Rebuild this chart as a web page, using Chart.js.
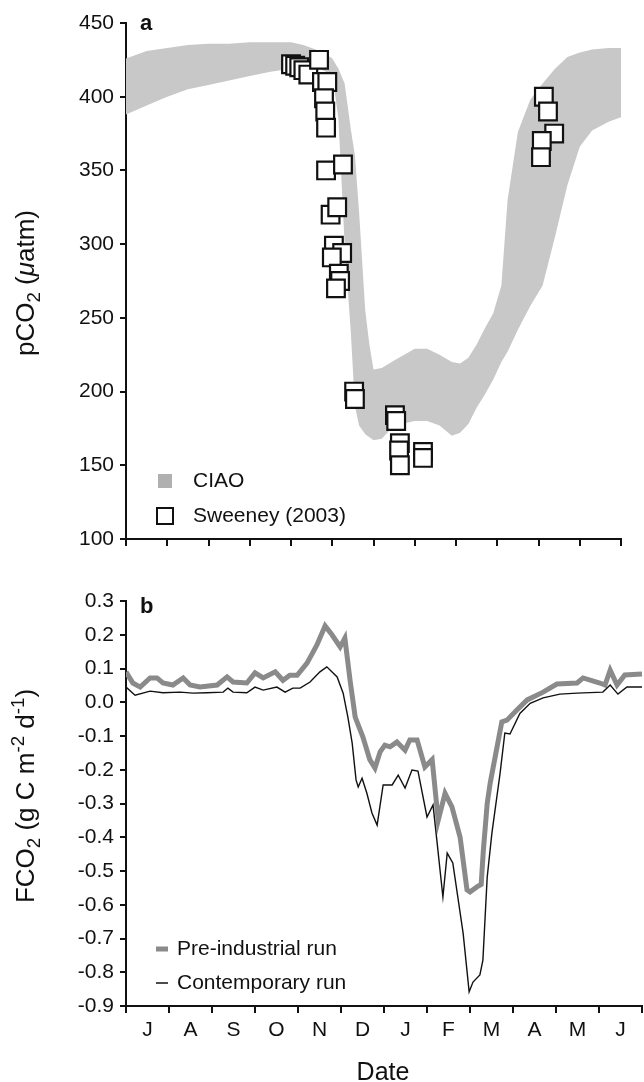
<!DOCTYPE html>
<html>
<head>
<meta charset="utf-8">
<script src="https://cdn.jsdelivr.net/npm/chart.js@4.4.1/dist/chart.umd.min.js"></script>
<style>
  html, body { margin: 0; padding: 0; background: #fff; }
  #wrap { position: relative; width: 644px; height: 1082px; }
  canvas { position: absolute; left: 0; }
</style>
</head>
<body>
<div id="wrap">
  <canvas id="topChart" width="644" height="560" style="top:0"></canvas>
  <canvas id="bottomChart" width="644" height="522" style="top:560px"></canvas>
</div>
<script>
// month labels, Jul -> Jun
const months = ["J", "A", "S", "O", "N", "D", "J", "F", "M", "A", "M", "J"];

// panel a: CIAO envelope (months since 1 Jul)
const ciaoX = [0, 0.5, 1, 1.5, 2, 2.5, 3, 3.5, 4, 4.3, 4.6, 4.85, 5.0, 5.15, 5.3, 5.45, 5.55, 5.65, 5.8, 5.9,
               6.0, 6.2, 6.5, 7.0, 7.3, 7.6, 7.9, 8.1, 8.3, 8.5, 8.7, 8.9, 9.1, 9.25, 9.5, 9.8,
               10.1, 10.4, 10.7, 11.0, 11.3, 11.7, 12];
const ciaoUpper = [426, 431, 433, 435, 436, 436, 437, 437, 437, 435, 432, 429, 426, 419, 409, 378, 360, 322, 255, 232,
                   215, 216, 221, 229, 229, 225, 220, 219, 223, 232, 243, 253, 272, 330, 376, 398,
                   409, 419, 427, 430, 432, 433, 433];
const ciaoLower = [388, 394, 400, 405, 408, 411, 414, 417, 419, 420, 420, 417, 415, 385, 300, 240, 190, 177, 171, 169,
                   167, 168, 177, 180, 180, 177, 170, 172, 178, 189, 198, 208, 220, 227, 242, 258,
                   272, 305, 340, 366, 377, 383, 386];

// panel a: Sweeney (2003) observations
const sweeneyX = [4.0, 4.1, 4.2, 4.3, 4.42, 4.68, 4.75, 4.88, 4.8, 4.83, 4.85, 4.85, 5.26, 4.96, 5.12, 5.04, 5.24, 4.99,
                  5.16, 5.19, 5.09, 5.53, 5.55, 6.52, 6.55, 6.64, 6.62, 6.64, 7.2, 7.2, 10.13, 10.23, 10.38, 10.08, 10.06];
const sweeneyY = [422, 421, 420, 418, 415, 425, 410, 410, 399, 390, 379, 350, 354, 320, 325, 299, 294, 291,
                  280, 275, 270, 200, 195, 184, 180, 165, 160, 150, 159, 155, 400, 390, 375, 370, 359];

// panel b: air-sea flux
const preX = [0, 0.16, 0.33, 0.56, 0.72, 0.86, 1.09, 1.33, 1.49, 1.72, 2.12, 2.35, 2.49, 2.81, 3.0, 3.19, 3.47, 3.65,
              3.81, 3.98, 4.21, 4.44, 4.63, 4.79, 4.98, 5.09, 5.21, 5.33, 5.51, 5.67, 5.79, 5.91, 6.02, 6.14, 6.3,
              6.49, 6.6, 6.77, 6.95, 7.12, 7.26, 7.42, 7.58, 7.77, 7.93, 8.0, 8.16, 8.26, 8.31, 8.4, 8.47, 8.63,
              8.74, 8.86, 9.09, 9.33, 9.7, 10.02, 10.49, 10.63, 11.02, 11.14, 11.26, 11.42, 11.6, 12];
const preY = [0.09, 0.057, 0.045, 0.072, 0.072, 0.057, 0.051, 0.072, 0.051, 0.045, 0.051, 0.075, 0.06, 0.057, 0.087,
              0.072, 0.09, 0.065, 0.08, 0.08, 0.116, 0.17, 0.226, 0.2, 0.164, 0.19, 0.066, -0.044, -0.103, -0.17,
              -0.195, -0.147, -0.127, -0.132, -0.118, -0.142, -0.112, -0.112, -0.192, -0.17, -0.35, -0.27, -0.31,
              -0.40, -0.556, -0.562, -0.547, -0.54, -0.44, -0.30, -0.239, -0.132, -0.058, -0.053, -0.023, 0.007,
              0.03, 0.054, 0.057, 0.072, 0.057, 0.051, 0.095, 0.051, 0.081, 0.084];
const conX = [0, 0.21, 0.56, 0.86, 1.26, 1.56, 1.88, 2.26, 2.37, 2.49, 2.81, 3.0, 3.19, 3.51, 3.7, 3.88, 4.05, 4.28,
              4.51, 4.67, 4.91, 5.05, 5.16, 5.26, 5.35, 5.4, 5.49, 5.6, 5.72, 5.84, 5.98, 6.19, 6.33, 6.49, 6.65,
              6.79, 7.0, 7.14, 7.23, 7.37, 7.47, 7.6, 7.84, 7.98, 8.07, 8.23, 8.3, 8.4, 8.51, 8.7, 8.81, 8.93,
              9.16, 9.4, 9.7, 10.09, 10.49, 11.09, 11.26, 11.44, 11.65, 12];
const conY = [0.045, 0.021, 0.033, 0.028, 0.03, 0.027, 0.028, 0.03, 0.042, 0.03, 0.028, 0.045, 0.036, 0.045, 0.03,
              0.042, 0.042, 0.06, 0.09, 0.105, 0.075, 0.027, -0.044, -0.121, -0.23, -0.251, -0.225, -0.269, -0.328,
              -0.364, -0.245, -0.245, -0.216, -0.254, -0.201, -0.204, -0.34, -0.304, -0.41, -0.577, -0.447, -0.476,
              -0.684, -0.858, -0.829, -0.808, -0.764, -0.518, -0.387, -0.21, -0.091, -0.094, -0.033, -0.003, 0.013,
              0.024, 0.027, 0.03, 0.051, 0.024, 0.045, 0.045];

const FONT = '"Liberation Sans", Arial, Helvetica, sans-serif';
const toXY = (xs, ys) => xs.map((x, i) => ({ x: x, y: ys[i] }));

// draws text with sub/superscript parts, optionally rotated
function drawRich(ctx, parts, cx, cy, size, rotate) {
    ctx.save();
    ctx.translate(cx, cy);
    if (rotate) ctx.rotate(-Math.PI / 2);
    ctx.textBaseline = "alphabetic";
    ctx.textAlign = "left";
    ctx.fillStyle = "#111";
    let total = 0;
    parts.forEach(p => {
        const s = p.sub || p.sup ? size * 0.72 : size;
        ctx.font = (p.italic ? "italic " : "") + s + "px " + FONT;
        p.w = ctx.measureText(p.t).width;
        total += p.w;
    });
    let x = -total / 2;
    parts.forEach(p => {
        const s = p.sub || p.sup ? size * 0.72 : size;
        ctx.font = (p.italic ? "italic " : "") + s + "px " + FONT;
        let dy = size * 0.35;
        if (p.sub) dy += size * 0.22;
        if (p.sup) dy -= size * 0.38;
        ctx.fillText(p.t, x, dy);
        x += p.w;
    });
    ctx.restore();
}

function axisX(showLabels) {
    return {
        type: "category",
        labels: months,
        offset: true,
        grid: { offset: true, drawOnChartArea: false, color: "#111", lineWidth: 2, tickLength: 7 },
        border: { color: "#111", width: 2 },
        ticks: { display: showLabels, color: "#111", font: { family: FONT, size: 21 }, padding: 5, maxRotation: 0, autoSkip: false }
    };
}

function axisY(min, max, step, fmt) {
    return {
        min: min, max: max,
        grid: { drawOnChartArea: false, color: "#111", lineWidth: 2, tickLength: 6 },
        border: { color: "#111", width: 2 },
        ticks: { stepSize: step, color: "#111", font: { family: FONT, size: 21 }, padding: 6, callback: fmt },
        afterFit(scale) { scale.width = 126; }
    };
}

/*** PANEL A ***/
const topX = axisX(false);
topX.afterFit = function (scale) { scale.height = 21; };

const panelA = {
    id: "panelA",
    afterDraw(chart) {
        const ctx = chart.ctx;
        drawRich(ctx, [{ t: "pCO" }, { t: "2", sub: true }, { t: " (" }, { t: "\u03bc", italic: true }, { t: "atm)" }], 25, 283, 26, true);
        ctx.save();
        ctx.fillStyle = "#111";
        ctx.font = "bold 22px " + FONT;
        ctx.textBaseline = "alphabetic";
        ctx.fillText("a", 140, 30);
        // legend
        ctx.fillStyle = "#b0b0b0";
        ctx.fillRect(158, 474, 14, 14);
        ctx.strokeStyle = "#111";
        ctx.lineWidth = 2;
        ctx.strokeRect(157, 508, 16, 16);
        ctx.fillStyle = "#111";
        ctx.font = "21px " + FONT;
        ctx.textBaseline = "middle";
        ctx.fillText("CIAO", 193, 481);
        ctx.fillText("Sweeney (2003)", 193, 516);
        ctx.restore();
    }
};

new Chart(document.getElementById("topChart"), {
    type: "line",
    data: {
        datasets: [{
            label: "Sweeney (2003)",
            data: toXY(sweeneyX, sweeneyY),
            xAxisID: "xd",
            showLine: false,
            pointStyle: "rect",
            pointRadius: 12.5,
            pointBorderWidth: 2.2,
            pointBorderColor: "#111",
            pointBackgroundColor: "#fff"
        }, {
            label: "CIAO max",
            data: toXY(ciaoX, ciaoUpper),
            xAxisID: "xd",
            borderWidth: 0,
            pointRadius: 0,
            backgroundColor: "#c8c8c8",
            fill: "+1"
        }, {
            label: "CIAO min",
            data: toXY(ciaoX, ciaoLower),
            xAxisID: "xd",
            borderWidth: 0,
            pointRadius: 0,
            fill: false
        }]
    },
    options: {
        responsive: false,
        animation: false,
        devicePixelRatio: 1,
        layout: { padding: { top: 23, right: 23, left: 0, bottom: 0 } },
        plugins: { legend: { display: false }, tooltip: { enabled: false } },
        scales: {
            x: topX,
            xd: { type: "linear", min: 0, max: 12, display: false },
            y: axisY(100, 450, 50, v => v)
        }
    },
    plugins: [panelA]
});

/*** PANEL B ***/
const botX = axisX(true);
botX.afterFit = function (scale) { scale.height = 76; };

const panelB = {
    id: "panelB",
    afterDraw(chart) {
        const ctx = chart.ctx;
        drawRich(ctx, [{ t: "FCO" }, { t: "2", sub: true }, { t: " (g C m" }, { t: "-2", sup: true }, { t: " d" }, { t: "-1", sup: true }, { t: ")" }], 25, 236, 26, true);
        ctx.save();
        ctx.fillStyle = "#111";
        ctx.font = "bold 22px " + FONT;
        ctx.textBaseline = "alphabetic";
        ctx.fillText("b", 140, 53);
        ctx.font = "25px " + FONT;
        ctx.textAlign = "center";
        ctx.textBaseline = "middle";
        ctx.fillText("Date", 383, 513);
        // legend
        ctx.strokeStyle = "#8a8a8a";
        ctx.lineWidth = 5;
        ctx.beginPath(); ctx.moveTo(156, 389); ctx.lineTo(168, 389); ctx.stroke();
        ctx.strokeStyle = "#111";
        ctx.lineWidth = 1.5;
        ctx.beginPath(); ctx.moveTo(156, 423); ctx.lineTo(168, 423); ctx.stroke();
        ctx.font = "21px " + FONT;
        ctx.textAlign = "left";
        ctx.fillText("Pre-industrial run", 177, 389);
        ctx.fillText("Contemporary run", 177, 423);
        ctx.restore();
    }
};

new Chart(document.getElementById("bottomChart"), {
    type: "line",
    data: {
        datasets: [{
            label: "Contemporary run",
            data: toXY(conX, conY),
            xAxisID: "xd",
            borderColor: "#111",
            borderWidth: 1.4,
            pointRadius: 0,
            fill: false
        }, {
            label: "Pre-industrial run",
            data: toXY(preX, preY),
            xAxisID: "xd",
            borderColor: "#8a8a8a",
            borderWidth: 5,
            pointRadius: 0,
            fill: false
        }]
    },
    options: {
        responsive: false,
        animation: false,
        devicePixelRatio: 1,
        layout: { padding: { top: 41, right: 2, left: 0, bottom: 0 } },
        plugins: { legend: { display: false }, tooltip: { enabled: false } },
        scales: {
            x: botX,
            xd: { type: "linear", min: 0, max: 12, display: false },
            y: axisY(-0.9, 0.3, 0.1, v => (Math.round(v * 10) / 10).toFixed(1))
        }
    },
    plugins: [panelB]
});
</script>
</body>
</html>
